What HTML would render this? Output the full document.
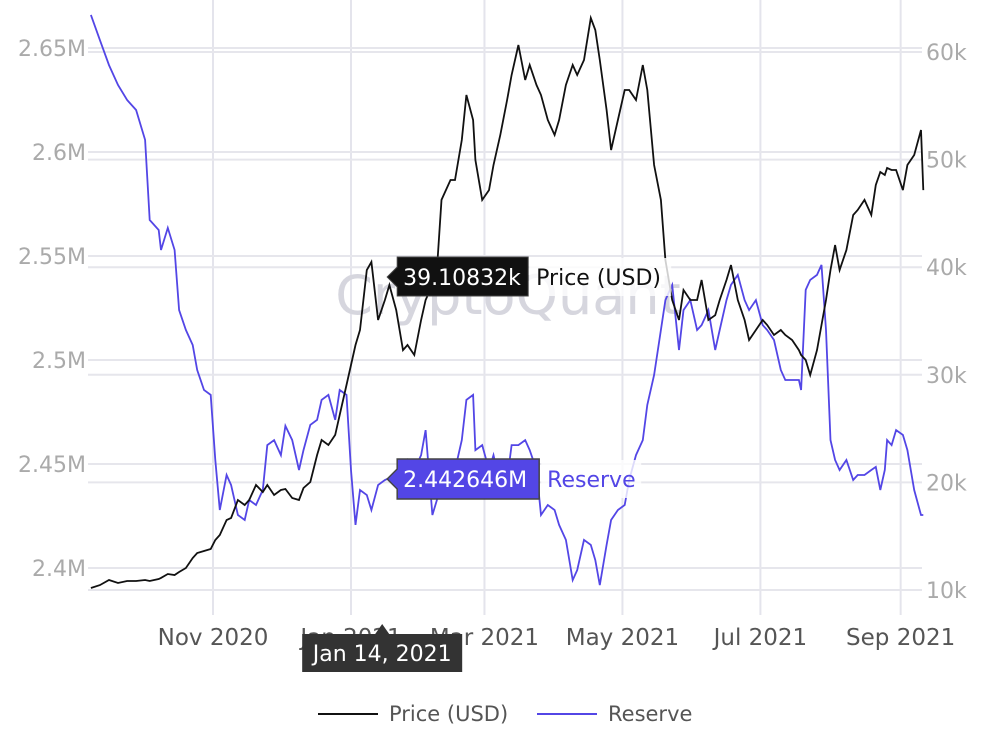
<!DOCTYPE html>
<html><head><meta charset="utf-8"><style>
html,body{margin:0;padding:0;background:#fff;width:996px;height:740px;overflow:hidden;font-family:"DejaVu Sans","Liberation Sans",sans-serif}
svg text{font-family:"DejaVu Sans","Liberation Sans",sans-serif}
</style></head><body>
<svg id="chart" width="996" height="740" xmlns="http://www.w3.org/2000/svg">
<g id="grid"></g>
<text x="508" y="314" text-anchor="middle" font-size="54" fill="#d6d6de">CryptoQuant</text>
<g id="series"></g>
<g id="axes"></g>
<g id="tips"></g>
<g id="legend"></g>
</svg>
<script>
const days=[1,5,9,13,17,21,25,27,31,32,35,38,40,43,46,48,51,54,56,58,61,63,66,69,71,74,77,79,82,85,87,90,93,95,98,101,103,106,109,111,114,116,118,120,123,125,128,131,133,136,139,141,144,147,149,152,154,156,160,162,165,167,170,171,174,177,179,182,185,187,190,193,195,198,200,203,206,208,211,214,216,219,222,224,226,229,231,234,237,239,242,245,247,250,253,255,258,261,263,266,269,271,274,277,279,282,284,287,290,292,295,298,300,303,306,308,311,314,315,317,319,322,324,326,328,330,332,335,338,340,343,346,348,350,352,353,355,357,360,362,365,368,369];
const reserveValues=[2.6659,2.6538,2.6418,2.6322,2.625,2.6202,2.6058,2.5673,2.5625,2.5529,2.5635,2.5529,2.524,2.5144,2.5072,2.4952,2.4856,2.4832,2.4519,2.4279,2.4447,2.4399,2.4255,2.4231,2.4327,2.4303,2.4375,2.4591,2.4615,2.4543,2.4683,2.4615,2.4471,2.4567,2.4688,2.4712,2.4808,2.4832,2.4712,2.4856,2.4832,2.4471,2.4207,2.4375,2.4351,2.4279,2.4399,2.4423,2.4433,2.4447,2.4462,2.4519,2.4471,2.4543,2.4663,2.4255,2.4327,2.4471,2.4375,2.4471,2.4615,2.4808,2.4832,2.4567,2.4591,2.4471,2.4543,2.4399,2.4423,2.4591,2.4591,2.4615,2.4567,2.4471,2.4255,2.4303,2.4279,2.4207,2.4135,2.3942,2.399,2.4135,2.4111,2.4038,2.3918,2.4111,2.4231,2.4279,2.4303,2.4423,2.4543,2.4615,2.4784,2.4928,2.5144,2.5288,2.5361,2.5048,2.524,2.5288,2.5144,2.5168,2.524,2.5048,2.5144,2.5288,2.5361,2.5409,2.5288,2.524,2.5288,2.5168,2.5144,2.5096,2.4952,2.4904,2.4904,2.4904,2.4856,2.5337,2.5385,2.5409,2.5457,2.5144,2.4615,2.4519,2.4471,2.4519,2.4423,2.4447,2.4447,2.4471,2.4486,2.4375,2.4471,2.4615,2.4591,2.4663,2.464,2.4567,2.4375,2.4255,2.4255];
const priceValues=[10.19,10.46,10.93,10.65,10.84,10.84,10.93,10.84,11.02,11.12,11.49,11.39,11.67,12.04,12.97,13.44,13.62,13.81,14.65,15.11,16.51,16.69,18.36,17.9,18.36,19.76,19.11,19.76,18.83,19.29,19.39,18.55,18.36,19.48,20.04,22.55,23.94,23.48,24.41,26.27,29.05,30.91,32.77,34.16,39.74,40.48,35.09,36.95,38.35,36.02,32.3,32.77,31.84,35.09,36.95,38.35,39.74,46.25,48.1,48.1,51.82,56.0,53.68,49.96,46.25,47.17,49.5,52.29,55.54,57.86,60.65,57.4,58.79,56.93,56.0,53.68,52.29,53.68,56.93,58.79,57.86,59.26,63.16,62.04,59.26,54.61,50.89,53.68,56.47,56.47,55.54,58.79,56.47,49.5,46.25,40.67,36.95,35.09,37.88,36.95,36.95,38.81,35.09,35.54,36.95,38.81,40.2,36.95,35.09,33.23,34.16,35.09,34.63,33.7,34.16,33.7,33.23,32.3,31.84,31.38,29.98,32.3,34.63,36.95,39.74,42.06,39.74,41.6,44.85,45.32,46.25,44.85,47.64,48.85,48.57,49.22,49.03,49.03,47.17,49.5,50.43,52.75,47.17];
const leftTicks=[2.4,2.45,2.5,2.55,2.6,2.65];
const leftTickLabels=["2.4M","2.45M","2.5M","2.55M","2.6M","2.65M"];
const rightTicks=[10,20,30,40,50,60];
const rightTickLabels=["10k","20k","30k","40k","50k","60k"];
const monthDays=[55,116,175,236,297,359];
const monthLabels=["Nov 2020","Jan 2021","Mar 2021","May 2021","Jul 2021","Sep 2021"];
const hoverDay=132;
const hoverPrice="39.10832k", hoverReserve="2.442646M", hoverDate="Jan 14, 2021";

const NS="http://www.w3.org/2000/svg";
const xS=d=>88.6+d*2.262;
const yL=v=>48+(2.65-v)*2080;
const yR=v=>52+(60-v)*10.76;
function mk(tag,attrs,parent,txt){const e=document.createElementNS(NS,tag);for(const k in attrs)e.setAttribute(k,attrs[k]);if(txt!=null)e.textContent=txt;parent.appendChild(e);return e;}
const grid=document.getElementById('grid'),axes=document.getElementById('axes'),series=document.getElementById('series'),tips=document.getElementById('tips'),legend=document.getElementById('legend');
monthDays.forEach((d,i)=>{
 const l=mk('line',{x1:xS(d),x2:xS(d),y1:0,y2:615,stroke:'#e4e4ec','stroke-width':2},grid);
 
 
 const t=mk('text',{x:xS(d),y:645,'text-anchor':'middle','font-size':23,fill:'#555'},axes,monthLabels[i]);
 
 
});
leftTicks.forEach((v,i)=>{
 const l=mk('line',{x1:88,x2:922,y1:yL(v),y2:yL(v),stroke:'#e6e6ec','stroke-width':2},grid);
 
 
 const t=mk('text',{x:86,y:yL(v)+8,'text-anchor':'end','font-size':22,fill:'#aaa'},axes,leftTickLabels[i]);
 
 
});
rightTicks.forEach((v,i)=>{
 const l=mk('line',{x1:88,x2:922,y1:yR(v),y2:yR(v),stroke:'#e6e6ec','stroke-width':2},grid);
 
 
 const t=mk('text',{x:926,y:yR(v)+8,'text-anchor':'start','font-size':22,fill:'#aaa'},axes,rightTickLabels[i]);
 
 
});
const rp=mk('path',{d:days.map((d,i)=>(i?'L':'M')+xS(d).toFixed(1)+','+yL(reserveValues[i]).toFixed(1)).join(''),fill:'none',stroke:'#5346e6','stroke-width':1.8},series);


const pp=mk('path',{d:days.map((d,i)=>(i?'L':'M')+xS(d).toFixed(1)+','+yR(priceValues[i]).toFixed(1)).join(''),fill:'none',stroke:'#111','stroke-width':1.8},series);


const hx=xS(hoverDay);
const t1bg=mk('rect',{x:hx+142,y:258,width:142,height:38,fill:'rgba(255,255,255,0.8)'},tips);


const t1=mk('path',{d:`M${hx} 277 L${hx+10} 267 L${hx+10} 257 L${hx+141} 257 L${hx+141} 296 L${hx+10} 296 L${hx+10} 287 Z`,fill:'#111',stroke:'#444','stroke-width':1},tips);


const t1t=mk('text',{x:hx+16,y:285,'font-size':22,fill:'#fff'},tips,hoverPrice);


const t1n=mk('text',{x:hx+149,y:285,'font-size':22,fill:'#111'},tips,'Price (USD)');


const t2bg=mk('rect',{x:hx+154,y:460,width:100,height:38,fill:'rgba(255,255,255,0.8)'},tips);


const t2=mk('path',{d:`M${hx} 479 L${hx+10} 469 L${hx+10} 459 L${hx+152} 459 L${hx+152} 499 L${hx+10} 499 L${hx+10} 489 Z`,fill:'#5346e6',stroke:'#444','stroke-width':1.5},tips);


const t2t=mk('text',{x:hx+16,y:487,'font-size':22,fill:'#fff'},tips,hoverReserve);


const t2n=mk('text',{x:hx+160,y:487,'font-size':22,fill:'#5346e6'},tips,'Reserve');


const t3=mk('path',{d:`M${hx-85} 634 L${hx-12} 634 L${hx-5} 624 L${hx+2} 634 L${hx+75} 634 L${hx+75} 672 L${hx-85} 672 Z`,fill:'#333'},tips);


const t3t=mk('text',{x:hx-5,y:661,'text-anchor':'middle','font-size':22,fill:'#fff'},tips,hoverDate);


const l1=mk('line',{x1:318,x2:378,y1:714,y2:714,stroke:'#111','stroke-width':2},legend);


const l1t=mk('text',{x:389,y:721,'font-size':21,fill:'#555'},legend,'Price (USD)');


const l2=mk('line',{x1:537,x2:597,y1:714,y2:714,stroke:'#5346e6','stroke-width':2},legend);


const l2t=mk('text',{x:608,y:721,'font-size':21,fill:'#555'},legend,'Reserve');


</script>
</body></html>
